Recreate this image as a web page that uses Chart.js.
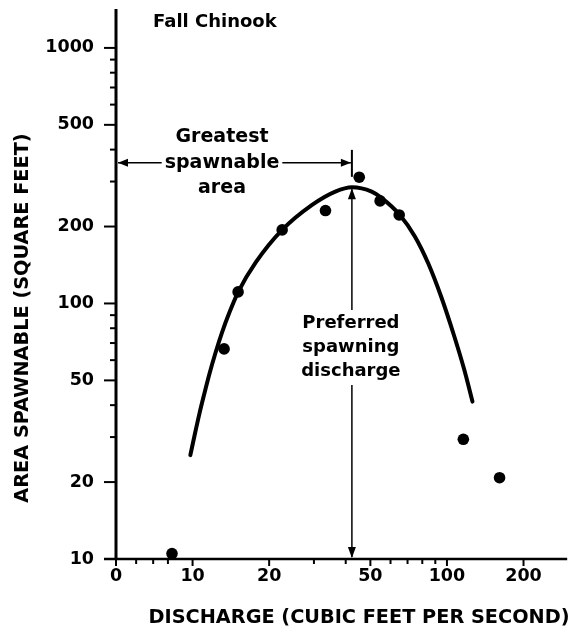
<!DOCTYPE html>
<html><head><meta charset="utf-8">
<script src="https://cdn.jsdelivr.net/npm/chart.js@4/dist/chart.umd.min.js"></script>
<style>html,body{margin:0;padding:0;background:#fff}</style>
</head><body>
<canvas id="c" width="573" height="635"></canvas>
<script>
const titleText = 'Fall Chinook';
const xAxisTitle = 'DISCHARGE (CUBIC FEET PER SECOND)';
const yAxisTitle = 'AREA SPAWNABLE (SQUARE FEET)';
const greatestLabel = ['Greatest', 'spawnable', 'area'];
const preferredLabel = ['Preferred', 'spawning', 'discharge'];

const obsDischarge = [8.3, 13.3, 15.1, 22.5, 33.3, 45.2, 54.6, 64.9, 116, 161];
const obsArea = [10.5, 66.4, 111, 194, 231, 312, 252, 222, 29.4, 20.8];

const curveDischarge = [9.8, 10.2, 10.63, 11.12, 11.66, 12.3, 13.05, 13.98, 15.12, 17.74, 22.5, 29.5, 36.4, 42.3, 50.6, 55.3, 65.3, 74.8, 84.3, 95.0, 107, 117, 126];
const curveArea = [25.5, 30.7, 36.9, 44.3, 53.2, 64.0, 76.9, 92.5, 111, 145, 194, 243, 274, 285, 274, 259, 222, 183, 144, 106, 74.1, 55.0, 41.3];

const xTickValues = [5, 10, 20, 50, 100, 200];
const xTickLabels = ['0', '10', '20', '50', '100', '200'];
const xMinorTicks = [6, 7, 8, 30, 40, 60, 70, 80, 90];
const yTickValues = [10, 20, 50, 100, 200, 500, 1000];
const yTickLabels = ['10', '20', '50', '100', '200', '500', '1000'];
const yMinorTicks = [30, 40, 60, 70, 80, 90, 300, 400, 600, 700, 800, 900];

const preferredDischarge = 42.3;
const peakArea = 285;
const greatestArrowArea = 355;

const FONT = '"DejaVu Sans", sans-serif';
const INK = '#000';

function toXY(xs, ys) { return xs.map((x, i) => ({ x: x, y: ys[i] })); }

function arrowHead(ctx, x, y, dir, len, half) {
  ctx.beginPath();
  if (dir === 'left') { ctx.moveTo(x, y); ctx.lineTo(x + len, y - half); ctx.lineTo(x + len, y + half); }
  if (dir === 'right') { ctx.moveTo(x, y); ctx.lineTo(x - len, y - half); ctx.lineTo(x - len, y + half); }
  if (dir === 'up') { ctx.moveTo(x, y); ctx.lineTo(x - half, y + len); ctx.lineTo(x + half, y + len); }
  if (dir === 'down') { ctx.moveTo(x, y); ctx.lineTo(x - half, y - len); ctx.lineTo(x + half, y - len); }
  ctx.closePath();
  ctx.fill();
}

const decor = {
  id: 'decor',
  afterDraw(chart) {
    const ctx = chart.ctx;
    const xs = chart.scales.x, ys = chart.scales.y;
    const a = chart.chartArea;
    ctx.save();
    ctx.strokeStyle = INK; ctx.fillStyle = INK;
    ctx.lineCap = 'butt';
    // axis lines
    ctx.lineWidth = 3;
    ctx.beginPath(); ctx.moveTo(a.left, a.top); ctx.lineTo(a.left, a.bottom + 1); ctx.stroke();
    ctx.lineWidth = 2.5;
    ctx.beginPath(); ctx.moveTo(a.left - 12, a.bottom); ctx.lineTo(a.right, a.bottom); ctx.stroke();
    // y ticks
    ctx.lineWidth = 2;
    yTickValues.forEach(v => { const p = ys.getPixelForValue(v); ctx.beginPath(); ctx.moveTo(a.left - 12, p); ctx.lineTo(a.left, p); ctx.stroke(); });
    yMinorTicks.forEach(v => { const p = ys.getPixelForValue(v); ctx.beginPath(); ctx.moveTo(a.left - 6, p); ctx.lineTo(a.left, p); ctx.stroke(); });
    // x ticks
    xTickValues.forEach(v => { const p = xs.getPixelForValue(v); ctx.beginPath(); ctx.moveTo(p, a.bottom); ctx.lineTo(p, a.bottom + 7); ctx.stroke(); });
    xMinorTicks.forEach(v => { const p = xs.getPixelForValue(v); ctx.beginPath(); ctx.moveTo(p, a.bottom); ctx.lineTo(p, a.bottom + 5); ctx.stroke(); });

    // title
    ctx.font = 'bold 18px ' + FONT;
    ctx.textAlign = 'left'; ctx.textBaseline = 'middle';
    ctx.fillText(titleText, 153, 22);

    // axis titles
    ctx.font = 'bold 19.3px ' + FONT;
    ctx.textAlign = 'center';
    ctx.fillText(xAxisTitle, 359, 618);
    ctx.save();
    ctx.translate(23, 318);
    ctx.rotate(-Math.PI / 2);
    ctx.fillText(yAxisTitle, 0, 0);
    ctx.restore();

    // greatest spawnable area arrow
    const px = xs.getPixelForValue(preferredDischarge);
    const gy = ys.getPixelForValue(greatestArrowArea);
    const tx = 222;
    ctx.font = 'bold 19px ' + FONT;
    ctx.fillText(greatestLabel[0], tx, gy - 26);
    ctx.fillText(greatestLabel[1], tx, gy);
    ctx.fillText(greatestLabel[2], tx, gy + 25);
    const halfW = ctx.measureText(greatestLabel[1]).width / 2;
    ctx.lineWidth = 1.5;
    ctx.beginPath(); ctx.moveTo(a.left + 2, gy); ctx.lineTo(tx - halfW - 3, gy); ctx.stroke();
    ctx.beginPath(); ctx.moveTo(tx + halfW + 3, gy); ctx.lineTo(px - 1, gy); ctx.stroke();
    arrowHead(ctx, a.left + 2, gy, 'left', 10, 4);
    arrowHead(ctx, px - 1, gy, 'right', 10, 4);
    ctx.lineWidth = 2;
    ctx.beginPath(); ctx.moveTo(px, gy - 13); ctx.lineTo(px, gy + 14); ctx.stroke();

    // preferred spawning discharge arrow
    const pk = ys.getPixelForValue(peakArea);
    ctx.font = 'bold 18px ' + FONT;
    ctx.fillText(preferredLabel[0], px - 1, 323);
    ctx.fillText(preferredLabel[1], px - 1, 347);
    ctx.fillText(preferredLabel[2], px - 1, 371);
    ctx.lineWidth = 1.5;
    ctx.beginPath(); ctx.moveTo(px, pk + 2); ctx.lineTo(px, 310); ctx.stroke();
    ctx.beginPath(); ctx.moveTo(px, 385); ctx.lineTo(px, a.bottom - 2); ctx.stroke();
    arrowHead(ctx, px, pk + 1, 'up', 11, 4);
    arrowHead(ctx, px, a.bottom - 1, 'down', 11, 4);
    ctx.restore();
  }
};

new Chart(document.getElementById('c'), {
  type: 'scatter',
  data: {
    datasets: [
      {
        label: 'Fitted curve',
        data: toXY(curveDischarge, curveArea),
        showLine: true,
        borderColor: INK,
        borderWidth: 4,
        borderCapStyle: 'round',
        pointRadius: 0,
        cubicInterpolationMode: 'monotone',
        fill: false,
        clip: false
      },
      {
        label: 'Observed',
        data: toXY(obsDischarge, obsArea),
        backgroundColor: INK,
        borderColor: INK,
        pointRadius: 5.8,
        pointHoverRadius: 5.8,
        borderWidth: 0,
        clip: false
      }
    ]
  },
  options: {
    responsive: false,
    animation: false,
    devicePixelRatio: 1,
    layout: { padding: { top: 9, right: 3, left: 0, bottom: 0 } },
    plugins: { legend: { display: false }, tooltip: { enabled: false } },
    scales: {
      x: {
        type: 'logarithmic',
        min: 5, max: 297,
        afterFit(s) { s.height = 76; s.paddingLeft = 0; s.paddingRight = 0; },
        afterBuildTicks(s) { s.ticks = xTickValues.map(v => ({ value: v })); },
        grid: { display: false, drawTicks: false },
        border: { display: false },
        ticks: {
          autoSkip: false, maxRotation: 0, padding: 7,
          color: INK, font: { family: FONT, size: 17.5, weight: 'bold' },
          callback(v) { const i = xTickValues.indexOf(v); return i >= 0 ? xTickLabels[i] : ''; }
        }
      },
      y: {
        type: 'logarithmic',
        min: 10, max: 1420,
        afterFit(s) { s.width = 116; s.paddingTop = 0; s.paddingBottom = 0; },
        afterBuildTicks(s) { s.ticks = yTickValues.map(v => ({ value: v })); },
        grid: { display: false, drawTicks: false },
        border: { display: false },
        ticks: {
          autoSkip: false, padding: 22,
          color: INK, font: { family: FONT, size: 17.5, weight: 'bold' },
          callback(v) { const i = yTickValues.indexOf(v); return i >= 0 ? yTickLabels[i] : ''; }
        }
      }
    }
  },
  plugins: [decor]
});
</script>
</body></html>
